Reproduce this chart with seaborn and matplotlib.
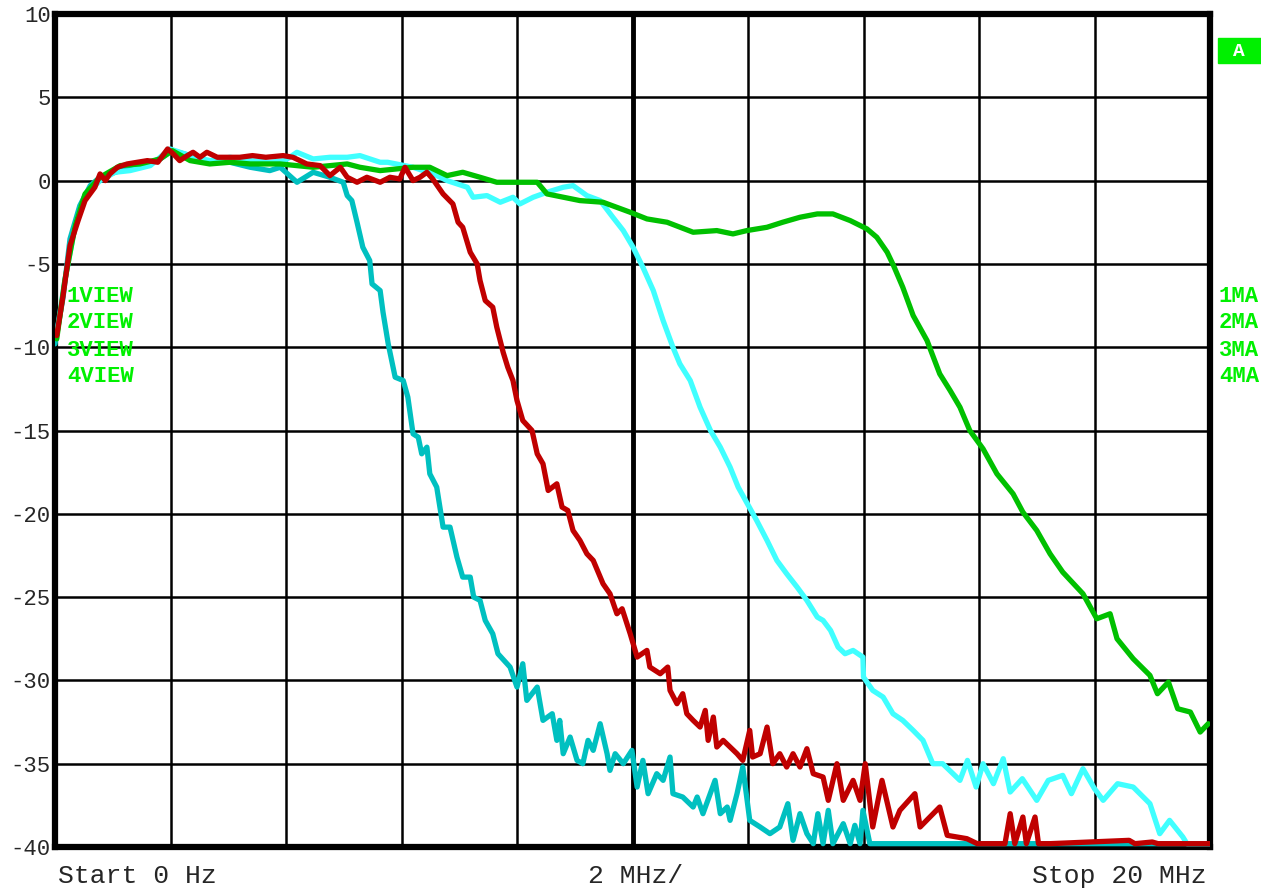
import pandas as pd
import seaborn as sns
import matplotlib.pyplot as plt
from matplotlib.patches import Rectangle

# trace 4: dark cyan (lowest cut-off)
dcyan_f = [0.0, 0.14, 0.26, 0.43, 0.61, 0.78, 1.13, 1.47, 1.82, 2.03, 2.34, 2.68, 3.03, 3.38, 3.72, 3.90,
           4.19, 4.47, 4.76, 4.99, 5.06, 5.14, 5.23, 5.33, 5.45, 5.49, 5.63, 5.68, 5.77, 5.89, 6.03, 6.11,
           6.20, 6.29, 6.35, 6.44, 6.49, 6.61, 6.72, 6.84, 6.96, 7.06, 7.19, 7.25, 7.36, 7.45, 7.58, 7.67,
           7.88, 8.00, 8.10, 8.17, 8.35, 8.45, 8.61, 8.69, 8.74, 8.80, 8.92, 9.04, 9.14, 9.23, 9.32, 9.44,
           9.56, 9.61, 9.70, 9.84, 9.99, 10.08, 10.18, 10.27, 10.42, 10.53, 10.65, 10.70, 10.87, 11.05,
           11.12, 11.22, 11.43, 11.52, 11.64, 11.69, 11.81, 11.91, 12.03, 12.21, 12.38, 12.55, 12.69, 12.78,
           12.90, 13.02, 13.13, 13.21, 13.30, 13.39, 13.47, 13.65, 13.77, 13.85, 13.94, 13.99, 14.11, 20.0]
dcyan_db = [-9.8, -7.0, -3.5, -1.5, -0.3, 0.2, 0.6, 0.9, 1.3, 1.8, 1.5, 1.1, 1.1, 0.8, 0.6, 0.8,
            -0.1, 0.5, 0.2, -0.1, -0.9, -1.2, -2.5, -4.0, -4.8, -6.2, -6.6, -7.9, -9.8, -11.8, -12.0, -13.0,
            -15.2, -15.4, -16.4, -16.0, -17.6, -18.4, -20.8, -20.8, -22.6, -23.8, -23.8, -25.0, -25.2, -26.4,
            -27.2, -28.4, -29.2, -30.4, -29.0, -31.2, -30.4, -32.4, -32.0, -33.6, -32.4, -34.4, -33.4, -34.8,
            -35.0, -33.6, -34.2, -32.6, -34.4, -35.4, -34.4, -35.0, -34.2, -36.4, -34.8, -36.8, -35.6, -36.0,
            -34.6, -36.8, -37.0, -37.6, -37.0, -38.0, -36.0, -38.0, -37.6, -38.4, -36.8, -35.2, -38.4, -38.8,
            -39.2, -38.8, -37.4, -39.6, -38.0, -39.2, -39.8, -38.0, -39.8, -37.8, -39.8, -38.6, -39.8, -38.7,
            -39.8, -37.8, -39.8, -39.8]

# trace 2: red
red_f = [0.03, 0.14, 0.26, 0.40, 0.52, 0.69, 0.78, 0.87, 0.95, 1.08, 1.25, 1.43, 1.60, 1.78, 1.95, 2.05,
         2.16, 2.29, 2.39, 2.51, 2.63, 2.81, 3.20, 3.42, 3.65, 3.95, 4.12, 4.24, 4.36, 4.59, 4.76, 4.94,
         5.06, 5.23, 5.40, 5.63, 5.80, 5.97, 6.06, 6.20, 6.32, 6.44, 6.54, 6.72, 6.89,
         6.98, 7.06, 7.19, 7.31, 7.36, 7.45, 7.58, 7.65, 7.76, 7.84, 7.93, 8.00, 8.10, 8.26, 8.35, 8.45,
         8.54, 8.69, 8.78, 8.88, 8.97, 9.09, 9.21, 9.32, 9.49, 9.61, 9.73, 9.82, 9.96, 10.08, 10.25, 10.30,
         10.48, 10.61, 10.65, 10.77, 10.87, 10.94, 11.05, 11.17, 11.26, 11.31, 11.40, 11.46, 11.57, 11.69,
         11.81, 11.91, 12.03, 12.08, 12.21, 12.33, 12.43, 12.55, 12.67, 12.78, 12.90, 13.02, 13.13, 13.30,
         13.39, 13.54, 13.65, 13.82, 13.94, 14.03, 14.16, 14.32, 14.51, 14.63, 14.89, 14.98, 15.32, 15.45,
         15.79, 15.97, 16.19, 16.45, 16.54, 16.62, 16.76, 16.82, 16.97, 17.03, 17.23, 18.60, 18.70, 19.00,
         19.10, 20.0]
red_db = [-9.3, -6.9, -3.9, -2.4, -1.2, -0.4, 0.4, 0.0, 0.4, 0.8, 1.0, 1.1, 1.2, 1.1, 1.9, 1.6,
          1.2, 1.5, 1.7, 1.4, 1.7, 1.4, 1.4, 1.5, 1.4, 1.5, 1.4, 1.2, 1.0, 0.9, 0.3, 0.8,
          0.2, -0.1, 0.2, -0.1, 0.2, 0.1, 0.8, 0.0, 0.2, 0.5, 0.1, -0.8, -1.4,
          -2.5, -2.8, -4.3, -5.0, -6.0, -7.2, -7.6, -8.8, -10.3, -11.2, -12.0, -13.2, -14.4, -15.0, -16.4, -17.0,
          -18.6, -18.2, -19.6, -19.8, -21.0, -21.6, -22.4, -22.8, -24.2, -24.8, -26.0, -25.7, -27.2, -28.6,
          -28.2, -29.2, -29.6, -29.2, -30.6, -31.4, -30.8, -32.0, -32.4, -32.8, -31.8, -33.6, -32.2, -34.0,
          -33.6, -34.0, -34.4, -34.8, -33.0, -34.6, -34.4, -32.8, -35.0, -34.4, -35.2, -34.4, -35.2, -34.1,
          -35.6, -35.8, -37.2, -35.0, -37.2, -36.0, -37.2, -35.0, -38.8, -36.0, -38.8, -37.8, -36.8, -38.8,
          -37.6, -39.3, -39.5, -39.8, -39.8, -39.8, -38.0, -39.8, -38.2, -39.8, -38.2, -39.8, -39.8, -39.6,
          -39.8, -39.7, -39.8, -39.8]

# trace 3: light cyan
lcyan_f = [0.03, 0.17, 0.35, 0.52, 0.78, 1.04, 1.30, 1.65, 1.99, 2.34, 2.68, 3.03, 3.38, 3.72, 3.98, 4.19,
           4.47, 4.76, 5.06, 5.28, 5.63, 5.76, 6.20, 6.55, 6.79, 7.14, 7.24, 7.48, 7.71, 7.93, 8.05, 8.28,
           8.52, 8.80, 8.97, 9.21, 9.44, 9.66, 9.84, 10.01, 10.18, 10.36, 10.53, 10.70, 10.82, 11.00, 11.17,
           11.35, 11.52, 11.69, 11.83, 11.99, 12.15, 12.33, 12.50, 12.67, 12.85, 13.02, 13.20, 13.30, 13.43,
           13.56, 13.68, 13.82, 13.99, 14.00, 14.16, 14.34, 14.51, 14.68, 14.86, 15.03, 15.20, 15.37, 15.67,
           15.80, 15.95, 16.07, 16.25, 16.42, 16.54, 16.75, 17.00, 17.20, 17.45, 17.60, 17.80, 18.00, 18.15,
           18.40, 18.67, 18.96, 19.13, 19.30, 19.53, 19.60, 20.0]
lcyan_db = [-9.2, -6.0, -2.7, -0.9, 0.0, 0.5, 0.6, 0.9, 1.9, 1.5, 1.2, 1.4, 1.2, 1.1, 1.2, 1.7,
            1.3, 1.4, 1.4, 1.5, 1.1, 1.1, 0.8, 0.4, 0.0, -0.4, -1.0, -0.9, -1.3, -1.0, -1.4, -1.0,
            -0.7, -0.4, -0.3, -0.9, -1.2, -2.2, -3.0, -4.0, -5.2, -6.6, -8.4, -10.0, -11.0, -12.0, -13.6,
            -15.0, -16.0, -17.2, -18.4, -19.4, -20.4, -21.6, -22.8, -23.6, -24.4, -25.2, -26.2, -26.4, -27.0,
            -28.0, -28.4, -28.2, -28.6, -29.8, -30.6, -31.0, -32.0, -32.4, -33.0, -33.6, -35.0, -35.0, -36.0,
            -34.8, -36.4, -35.0, -36.2, -34.7, -36.7, -35.9, -37.2, -36.0, -35.7, -36.8, -35.3, -36.5, -37.2,
            -36.2, -36.4, -37.4, -39.2, -38.4, -39.4, -39.8, -39.8]

# trace 1: green (highest cut-off)
green_f = [0.03, 0.17, 0.35, 0.52, 0.78, 1.13, 1.47, 1.82, 2.03, 2.34, 2.68, 3.03, 3.38, 3.72, 3.90, 4.47,
           5.06, 5.28, 5.63, 6.20, 6.49, 6.79, 7.06, 7.36, 7.65, 7.93, 8.35, 8.52, 9.09, 9.49, 9.96, 10.25,
           10.60, 11.05, 11.46, 11.74, 11.98, 12.33, 12.60, 12.90, 13.20, 13.47, 13.77, 14.06, 14.23, 14.41,
           14.52, 14.68, 14.86, 15.10, 15.32, 15.50, 15.67, 15.84, 16.07, 16.31, 16.59, 16.76, 17.00, 17.23,
           17.45, 17.80, 18.04, 18.27, 18.39, 18.67, 18.96, 19.09, 19.28, 19.44, 19.66, 19.83, 19.97]
green_db = [-9.5, -6.0, -2.7, -0.8, 0.2, 0.9, 1.0, 1.3, 1.8, 1.2, 1.0, 1.1, 1.0, 1.0, 1.0, 0.8,
            1.0, 0.8, 0.6, 0.8, 0.8, 0.3, 0.5, 0.2, -0.1, -0.1, -0.1, -0.8, -1.2, -1.3, -1.9, -2.3,
            -2.5, -3.1, -3.0, -3.2, -3.0, -2.8, -2.5, -2.2, -2.0, -2.0, -2.4, -2.9, -3.4, -4.3,
            -5.1, -6.4, -8.1, -9.6, -11.6, -12.6, -13.6, -15.0, -16.1, -17.6, -18.8, -19.9, -21.0, -22.4,
            -23.5, -24.8, -26.3, -26.0, -27.5, -28.7, -29.7, -30.8, -30.1, -31.7, -31.9, -33.1, -32.6]

y_ticks = [10, 5, 0, -5, -10, -15, -20, -25, -30, -35, -40]
view_labels = ["1VIEW", "2VIEW", "3VIEW", "4VIEW"]
ma_labels = ["1MA", "2MA", "3MA", "4MA"]

sns.set_style("white")
plt.rcParams['font.family'] = ['Liberation Mono', 'DejaVu Sans Mono']

fig = plt.figure(figsize=(12.61, 8.88), dpi=100)
ax = fig.add_axes([55 / 1261, 1 - 847 / 888, 1155 / 1261, 833 / 888])

traces = [
    (dcyan_f, dcyan_db, '#00c0c0'),
    (lcyan_f, lcyan_db, '#40ffff'),
    (green_f, green_db, '#00c000'),
    (red_f, red_db, '#c00000'),
]
for f, db, col in traces:
    df = pd.DataFrame({'f': f, 'db': db})
    sns.lineplot(data=df, x='f', y='db', color=col, lw=3.8, estimator=None, sort=False,
                 ax=ax, zorder=3)

ax.set_xlim(0, 20)
ax.set_ylim(-40, 10)
ax.set_xticks(range(0, 21, 2))
ax.set_xticklabels([])
ax.set_yticks(y_ticks)
ax.set_yticklabels([str(v) for v in y_ticks], fontsize=16)
ax.tick_params(length=0, pad=3)
ax.set_xlabel('')
ax.set_ylabel('')
ax.grid(True, color='black', lw=1.8, zorder=1)
ax.set_axisbelow(True)
ax.axvline(10, color='black', lw=3.5, zorder=1)
for s in ax.spines.values():
    s.set_visible(True)
    s.set_color('black')
    s.set_linewidth(4.5)
    s.set_zorder(2.5)

fig.text(58 / 1261, 1 - 876 / 888, "Start 0 Hz", fontsize=19, va='center', ha='left')
fig.text(588 / 1261, 1 - 876 / 888, "2 MHz/", fontsize=19, va='center', ha='left')
fig.text(1207 / 1261, 1 - 876 / 888, "Stop 20 MHz", fontsize=19, va='center', ha='right')

lime = '#00f000'
for i, (lv, lm) in enumerate(zip(view_labels, ma_labels)):
    yy = 1 - (296 + 27 * i) / 888
    fig.text(67 / 1261, yy, lv, fontsize=16, fontweight='bold', color=lime, va='center', ha='left',
             zorder=5)
    fig.text(1219 / 1261, yy, lm, fontsize=16, fontweight='bold', color=lime, va='center', ha='left')

fig.patches.append(Rectangle((1218 / 1261, 1 - 63 / 888), 43 / 1261, 25 / 888,
                             transform=fig.transFigure, color='#00f000', zorder=5))
fig.text(1239 / 1261, 1 - 51 / 888, "A", fontsize=14, fontweight='bold', color='white',
         ha='center', va='center', zorder=6)

plt.savefig('out.png', dpi=100)
